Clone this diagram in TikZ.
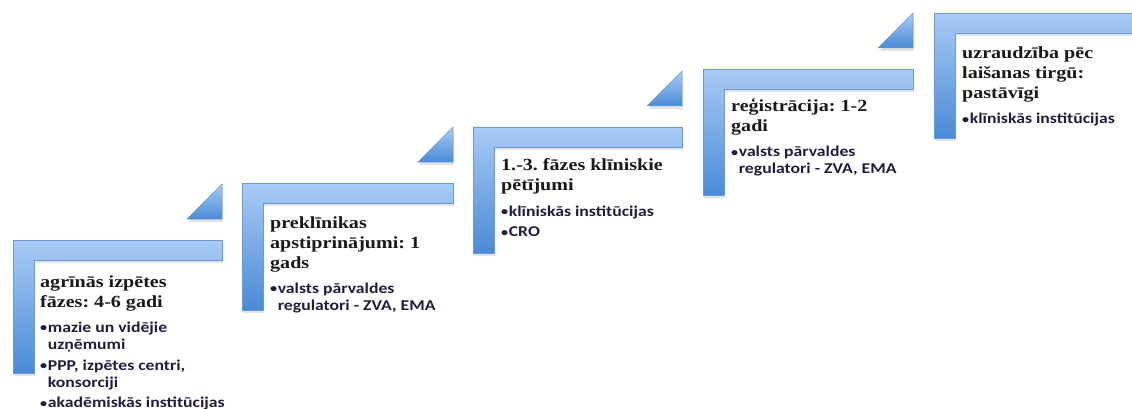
\documentclass[tikz,border=0pt]{standalone}
\usepackage{fontspec}
\setmainfont{Liberation Serif}
\newfontfamily\bulfont{Carlito}
\usetikzlibrary{shadows}
\definecolor{barlight}{HTML}{A9CBF6}
\definecolor{bardark}{HTML}{4A8AD6}
\definecolor{barline}{HTML}{6A9AD4}
\definecolor{headcol}{HTML}{1A1A1A}
\definecolor{bulcol}{HTML}{221C3C}
\frenchspacing
\newcommand{\bul}[1]{\par{\let\\\newline\hangindent=6.5pt\hangafter=1\noindent\makebox[6.5pt][l]{\raisebox{0.5pt}{\scalebox{0.8}{\textbullet}}}#1\par}}
\newcommand{\stepcontent}[2]{\scalebox{1.18}[1]{\begin{minipage}[t]{175pt}\frenchspacing\raggedright\leavevmode\color{headcol}\fontsize{17}{20}\selectfont\bfseries #1\par\vspace{8pt}\bulfont\fontsize{15}{17}\selectfont\color{bulcol}#2\end{minipage}}}
\tikzset{
  stepshape/.style={draw=barline, line width=0.7pt, top color=barlight, bottom color=bardark,
    drop shadow={opacity=0.22, shadow xshift=1pt, shadow yshift=-3pt}},
  tripiece/.style={draw=barline, line width=0.5pt, top color=barlight, bottom color=bardark,
    drop shadow={opacity=0.22, shadow xshift=1pt, shadow yshift=-3pt}},
  steptext/.style={anchor=base west, inner sep=0pt}
}
\begin{document}
\begin{tikzpicture}[x=1pt,y=-1pt]
\useasboundingbox (0,0) rectangle (1132,409);
% L shapes and triangles: X0, Ytop, Ybot, Xr
\foreach \xa/\ya/\yb/\xr in {13/240/373/222, 242/183/310/453, 473/127/253/682, 703/69/195/913, 934/13/138/1145}{
  \path[stepshape] (\xa,\ya) -- (\xr,\ya) -- (\xr,\ya+20) -- (\xa+21,\ya+20) -- (\xa+21,\yb) -- (\xa,\yb) -- cycle;
}
\foreach \xr/\ya in {222/240, 453/183, 682/127, 913/69}{
  \path[tripiece] (\xr-35,\ya-21) -- (\xr,\ya-21) -- (\xr,\ya-56) -- cycle;
}
\node[steptext] (s1) at (40,287) {\stepcontent{agrīnās izpētes\\fāzes: 4-6 gadi}{%
  \bul{mazie un vidējie\\uzņēmumi}\vspace{4pt}\bul{PPP, izpētes centri,\\konsorciji}\vspace{3.5pt}\bul{akadēmiskās institūcijas}}};
\node[steptext] (s2) at (270,228) {\stepcontent{preklīnikas\\apstiprinājumi: 1\\gads}{%
  \bul{valsts pārvaldes\\regulatori - ZVA, EMA}}};
\node[steptext] (s3) at (501,171) {\stepcontent{1.-3. fāzes klīniskie\\pētījumi}{%
  \bul{klīniskās institūcijas}\vspace{4pt}\bul{CRO}}};
\node[steptext] (s4) at (731,112) {\stepcontent{reģistrācija: 1-2\\gadi}{%
  \bul{valsts pārvaldes\\regulatori - ZVA, EMA}}};
\node[steptext] (s5) at (962,59) {\stepcontent{uzraudzība pēc\\laišanas tirgū:\\pastāvīgi}{%
  \bul{klīniskās institūcijas}}};
\end{tikzpicture}
\end{document}
